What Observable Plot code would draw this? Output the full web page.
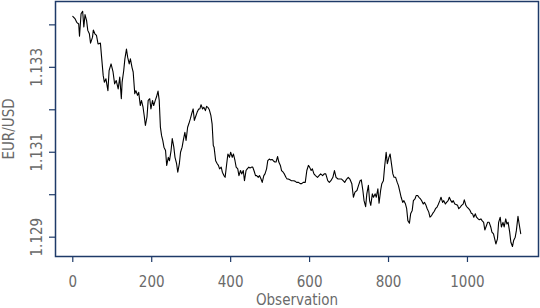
<!DOCTYPE html>
<html>
<head>
<meta charset="utf-8">
<script src="https://cdn.jsdelivr.net/npm/d3@7"></script>
<script src="https://cdn.jsdelivr.net/npm/@observablehq/plot@0.6"></script>
<style>
  html, body { margin: 0; padding: 0; background: #ffffff; }
  #chart svg { display: block; }
  #chart text { font-stretch: condensed; }
</style>
</head>
<body>
<div id="chart"></div>
<script>
const observation = [0,6,10,15,17,21,25,28,31,35,38,42,45,50,52,56,60,64,70,73,77,80,84,89,92,97,102,106,110,115,119,123,125,129,132,136,139,143,146,150,153,157,160,164,167,171,174,178,181,184,188,191,195,198,202,205,209,212,216,219,222,225,228,231,235,238,242,245,249,252,256,259,263,266,270,273,277,280,284,287,291,294,298,301,305,308,312,315,319,322,325,329,332,336,339,343,346,350,353,356,358,362,366,369,372,376,379,383,386,390,393,397,400,404,407,411,414,418,421,425,428,432,435,439,442,446,449,453,456,459,463,466,470,473,477,480,484,487,491,494,498,501,505,508,512,515,519,522,526,529,533,536,540,543,546,550,554,559,563,567,572,576,580,584,589,593,597,600,604,607,611,615,620,624,628,633,637,641,646,650,654,659,663,667,672,676,681,685,689,694,698,702,707,711,715,720,724,728,731,735,738,742,745,749,752,755,759,762,766,769,773,776,780,783,787,790,794,797,801,804,808,811,814,818,822,825,829,832,836,839,843,846,849,853,856,860,863,867,870,874,877,881,884,888,891,895,898,902,905,909,912,916,919,923,926,930,933,937,940,944,947,951,954,958,961,964,968,971,975,978,982,985,989,992,996,999,1003,1006,1010,1013,1016,1020,1023,1027,1030,1034,1037,1041,1044,1048,1051,1055,1059,1062,1066,1069,1072,1076,1079,1083,1086,1090,1093,1097,1100,1103,1107,1110,1114,1117,1121,1124,1128,1131,1135];

const eurusd = [1.13420,1.13414,1.13406,1.13402,1.13373,1.13426,1.13432,1.13395,1.13424,1.13410,1.13387,1.13379,1.13357,1.13371,1.13388,1.13379,1.13375,1.13355,1.13357,1.13324,1.13281,1.13265,1.13273,1.13245,1.13292,1.13308,1.13289,1.13261,1.13269,1.13249,1.13277,1.13226,1.13265,1.13292,1.13320,1.13343,1.13324,1.13308,1.13320,1.13300,1.13289,1.13238,1.13245,1.13234,1.13241,1.13210,1.13222,1.13206,1.13186,1.13163,1.13183,1.13222,1.13226,1.13202,1.13222,1.13210,1.13222,1.13230,1.13244,1.13222,1.13159,1.13139,1.13128,1.13112,1.13104,1.13069,1.13088,1.13080,1.13104,1.13132,1.13112,1.13088,1.13073,1.13053,1.13073,1.13100,1.13112,1.13128,1.13147,1.13128,1.13159,1.13167,1.13179,1.13190,1.13202,1.13175,1.13186,1.13194,1.13202,1.13202,1.13212,1.13202,1.13206,1.13198,1.13208,1.13205,1.13200,1.13186,1.13167,1.13116,1.13112,1.13080,1.13073,1.13069,1.13061,1.13065,1.13053,1.13045,1.13041,1.13073,1.13096,1.13088,1.13100,1.13088,1.13096,1.13080,1.13065,1.13061,1.13045,1.13057,1.13049,1.13057,1.13033,1.13057,1.13061,1.13065,1.13063,1.13065,1.13065,1.13057,1.13045,1.13045,1.13041,1.13045,1.13037,1.13029,1.13045,1.13049,1.13061,1.13080,1.13084,1.13082,1.13083,1.13080,1.13077,1.13077,1.13090,1.13077,1.13069,1.13057,1.13053,1.13049,1.13041,1.13037,1.13037,1.13035,1.13033,1.13033,1.13032,1.13029,1.13029,1.13026,1.13026,1.13029,1.13029,1.13057,1.13069,1.13065,1.13057,1.13061,1.13049,1.13045,1.13041,1.13045,1.13049,1.13045,1.13049,1.13049,1.13033,1.13029,1.13033,1.13041,1.13057,1.13041,1.13037,1.13037,1.13037,1.13033,1.13029,1.13037,1.13041,1.13037,1.13026,1.12994,1.13006,1.13010,1.13022,1.13033,1.13035,1.13010,1.12986,1.12972,1.13002,1.13022,1.12986,1.12975,1.13002,1.12994,1.13002,1.12994,1.13014,1.12980,1.13010,1.13026,1.13033,1.13065,1.13100,1.13073,1.13088,1.13096,1.13069,1.13049,1.13041,1.13041,1.13029,1.13022,1.13006,1.12994,1.12982,1.12986,1.12978,1.12967,1.12939,1.12933,1.12955,1.12963,1.12986,1.12990,1.12998,1.12998,1.12994,1.12990,1.12986,1.12978,1.12982,1.12975,1.12967,1.12959,1.12947,1.12951,1.12956,1.12961,1.12967,1.12971,1.12977,1.12986,1.12994,1.12982,1.12986,1.12978,1.12982,1.12986,1.12994,1.12986,1.12982,1.12986,1.12978,1.12977,1.12975,1.12967,1.12971,1.12975,1.12978,1.12988,1.12975,1.12971,1.12967,1.12964,1.12956,1.12955,1.12947,1.12955,1.12947,1.12943,1.12941,1.12943,1.12939,1.12935,1.12917,1.12927,1.12935,1.12935,1.12924,1.12912,1.12908,1.12896,1.12884,1.12896,1.12935,1.12947,1.12924,1.12935,1.12924,1.12943,1.12931,1.12935,1.12912,1.12888,1.12878,1.12892,1.12900,1.12916,1.12949,1.12931,1.12908];

const xTicks = [0, 200, 400, 600, 800, 1000];
const yTicks = [1.129, 1.130, 1.131, 1.132, 1.133, 1.134];
const yTickLabels = [1.129, 1.131, 1.133];

const data = observation.map((o, i) => ({obs: o, value: eurusd[i]}));

const frameColor = "#1e3a68";
const textColor = "#6a6a6a";
const font = "'DejaVu Sans', sans-serif";
const fs = 15;

const chart = Plot.plot({
  width: 540,
  height: 308,
  marginLeft: 55,
  marginRight: 2,
  marginTop: 1,
  marginBottom: 52,
  style: {background: "#ffffff", fontFamily: font},
  x: {domain: [-43.8, 1180], axis: null},
  y: {domain: [1.128545, 1.13455], axis: null},
  marks: [
    Plot.axisX({ticks: xTicks, tickSize: 6, tickFormat: () => "", label: null, stroke: frameColor, strokeWidth: 1.2}),
    Plot.axisY({ticks: yTicks, tickSize: 6, tickFormat: () => "", label: null, stroke: frameColor, strokeWidth: 1.2}),
    Plot.line(data, {x: "obs", y: "value", stroke: "#000000", strokeWidth: 1.1}),
    Plot.frame({stroke: frameColor, strokeWidth: 1.5}),
    Plot.text(xTicks, {x: d => d, text: d => String(d), frameAnchor: "bottom", dy: 30.5, lineAnchor: "bottom", textAnchor: "middle", fill: textColor, fontSize: fs}),
    Plot.text(yTickLabels, {y: d => d, text: d => d.toFixed(3), frameAnchor: "left", dx: -13.3, rotate: -90, lineAnchor: "bottom", textAnchor: "middle", fill: textColor, fontSize: fs}),
    Plot.text(["Observation"], {text: d => d, frameAnchor: "bottom", dy: 48.5, lineAnchor: "bottom", textAnchor: "middle", fill: textColor, fontSize: fs}),
    Plot.text(["EUR/USD"], {text: d => d, frameAnchor: "left", dx: -41.5, rotate: -90, lineAnchor: "bottom", textAnchor: "middle", fill: textColor, fontSize: fs})
  ]
});
document.getElementById("chart").appendChild(chart);
</script>
</body>
</html>
